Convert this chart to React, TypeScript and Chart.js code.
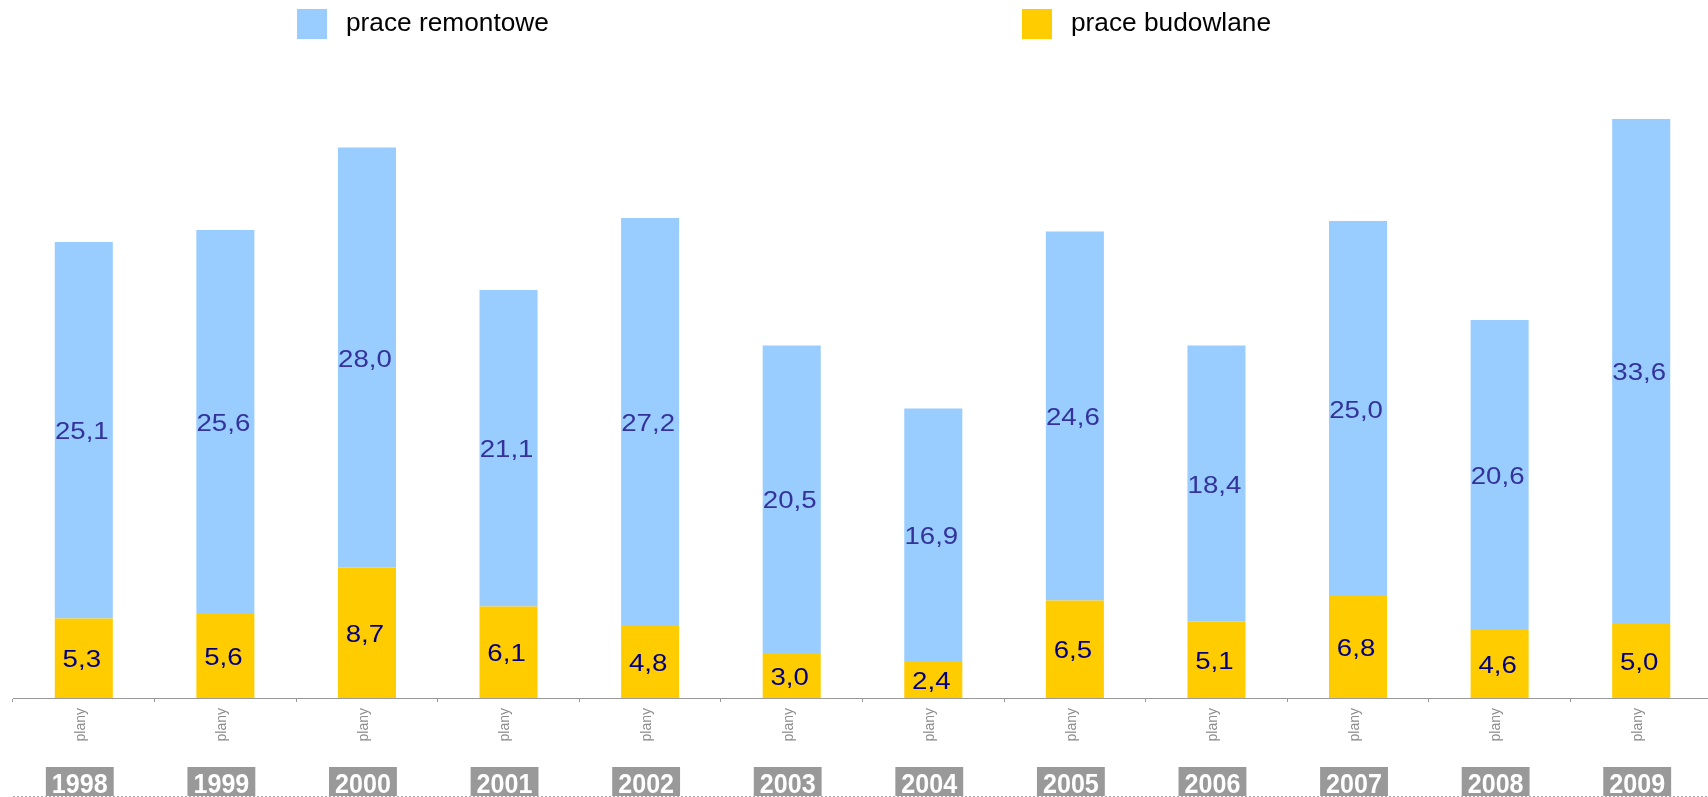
import React, { useEffect, useRef } from "react";
import { Chart, registerables } from "chart.js";

Chart.register(...registerables);

const years = ["1998", "1999", "2000", "2001", "2002", "2003", "2004", "2005", "2006", "2007", "2008", "2009"];
const subLabels = ["plany", "plany", "plany", "plany", "plany", "plany", "plany", "plany", "plany", "plany", "plany", "plany"];
const praceBudowlane = [5.3, 5.6, 8.7, 6.1, 4.8, 3.0, 2.4, 6.5, 5.1, 6.8, 4.6, 5.0];
const praceRemontowe = [25.1, 25.6, 28.0, 21.1, 27.2, 20.5, 16.9, 24.6, 18.4, 25.0, 20.6, 33.6];
const seriesNames = ["prace remontowe", "prace budowlane"];

const BLUE = "#99CCFF";
const YELLOW = "#FFCC00";
const FONT = "'Liberation Sans', Arial, sans-serif";

const W = 1708;
const CANVAS_W = 1712;
const H = 797;
const AXIS_Y = 698;
const TOP = 60;
const PX_PER_UNIT = 15;

const fmt = (v: number) => v.toFixed(1).replace(".", ",");

function drawScaledText(ctx: any, text: string, x: number, y: number, sx: number) {
  ctx.save();
  ctx.translate(x, y);
  ctx.scale(sx, 1);
  ctx.fillText(text, 0, 0);
  ctx.restore();
}

const overlayPlugin = {
  id: "overlay",
  afterDatasetsDraw(chart: any) {
    const ctx = chart.ctx;
    ctx.save();
    ctx.textAlign = "center";
    ctx.textBaseline = "middle";
    chart.data.datasets.forEach((ds: any, di: number) => {
      const meta = chart.getDatasetMeta(di);
      ctx.fillStyle = di === 0 ? "#000080" : "#333399";
      ctx.font = `24px ${FONT}`;
      meta.data.forEach((bar: any, i: number) => {
        const v = ds.data[i];
        const cy = (bar.y + bar.base) / 2;
        drawScaledText(ctx, fmt(v), bar.x - 2, cy + 2.5, 1.15);
      });
    });
    ctx.restore();
  },
  afterDraw(chart: any) {
    const ctx = chart.ctx;
    const xs = chart.scales.x;
    ctx.save();
    // legend
    const legend = [
      { name: seriesNames[0], color: BLUE, x: 297, w: 30 },
      { name: seriesNames[1], color: YELLOW, x: 1022, w: 30 },
    ];
    legend.forEach((l) => {
      ctx.fillStyle = l.color;
      ctx.fillRect(l.x, 9, l.w, 30);
      ctx.fillStyle = "#000000";
      ctx.font = `26px ${FONT}`;
      ctx.textAlign = "left";
      ctx.textBaseline = "middle";
      drawScaledText(ctx, l.name, l.x + l.w + 19, 24, 1.01);
    });
    // category labels
    years.forEach((y, i) => {
      const cx = xs.getPixelForValue(i);
      ctx.save();
      ctx.translate(cx - 3, 708);
      ctx.rotate(-Math.PI / 2);
      ctx.fillStyle = "#8C8C8C";
      ctx.font = `14px ${FONT}`;
      ctx.textAlign = "right";
      ctx.textBaseline = "middle";
      ctx.fillText(subLabels[i], 0, 0);
      ctx.restore();

      ctx.font = `bold 27px ${FONT}`;
      const tw = ctx.measureText(y).width * 0.93;
      const bw = tw + 12;
      const bx = cx - 4;
      ctx.fillStyle = "#999999";
      ctx.fillRect(bx - bw / 2, 767, bw, 29);
      ctx.fillStyle = "#FFFFFF";
      ctx.textAlign = "center";
      ctx.textBaseline = "alphabetic";
      drawScaledText(ctx, y, bx, 793, 0.93);
    });
    // bottom dotted line
    ctx.strokeStyle = "#AAAAAA";
    ctx.lineWidth = 1;
    ctx.setLineDash([2, 2]);
    ctx.beginPath();
    ctx.moveTo(13, 796.5);
    ctx.lineTo(CANVAS_W, 796.5);
    ctx.stroke();
    ctx.restore();
  },
};

export default function App() {
  const ref = useRef<HTMLCanvasElement | null>(null);

  useEffect(() => {
    document.body.style.margin = "0";
    if (!ref.current) return;
    const chart = new Chart(ref.current, {
      type: "bar",
      data: {
        labels: years,
        datasets: [
          {
            label: seriesNames[1],
            data: praceBudowlane,
            backgroundColor: YELLOW,
            borderWidth: 0,
            barPercentage: 0.41,
            categoryPercentage: 1,
          },
          {
            label: seriesNames[0],
            data: praceRemontowe,
            backgroundColor: BLUE,
            borderWidth: 0,
            barPercentage: 0.41,
            categoryPercentage: 1,
          },
        ],
      },
      options: {
        animation: false,
        responsive: true,
        maintainAspectRatio: false,
        devicePixelRatio: 1,
        layout: { padding: { left: 13, right: 0, top: TOP, bottom: 0 } },
        plugins: { legend: { display: false }, tooltip: { enabled: false } },
        scales: {
          x: {
            stacked: true,
            ticks: { display: false },
            grid: { drawOnChartArea: false, drawTicks: true, tickLength: 4, color: "#999999", offset: true },
            border: { color: "#999999", width: 1 },
            afterFit: (s: any) => {
              s.height = H - AXIS_Y;
            },
          },
          y: {
            stacked: true,
            display: false,
            min: 0,
            max: (AXIS_Y - TOP) / PX_PER_UNIT,
          },
        },
      },
      plugins: [overlayPlugin],
    });
    return () => chart.destroy();
  }, []);

  return (
    <div style={{ position: "fixed", left: 0, top: 0, width: W, height: H, overflow: "hidden" }}>
      <div style={{ position: "relative", width: CANVAS_W, height: H }}>
        <canvas ref={ref} />
      </div>
    </div>
  );
}
